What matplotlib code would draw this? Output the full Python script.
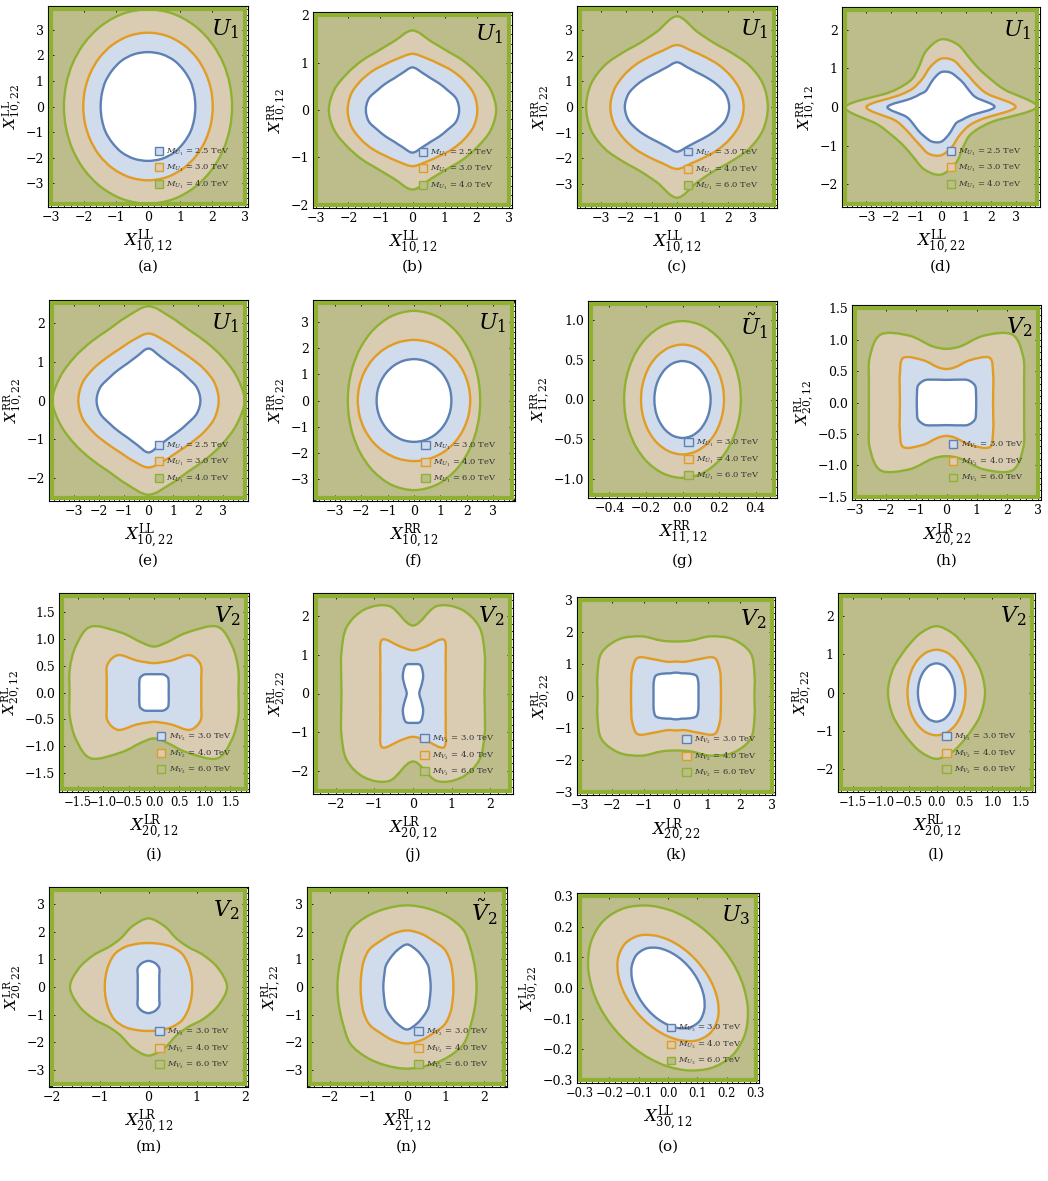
import numpy as np
import matplotlib
matplotlib.use("Agg")
import matplotlib.pyplot as plt
from matplotlib.path import Path
from matplotlib.patches import PathPatch, Rectangle, Patch
from matplotlib.ticker import MultipleLocator, AutoMinorLocator, FuncFormatter

plt.rcParams['font.family'] = 'DejaVu Serif'
plt.rcParams['mathtext.fontset'] = 'dejavuserif'

# ---- data --------------------------------------------------------------
# contour radii, as a fraction of the plotted half-range, every 15 deg from
# 0 to 165 deg (the other half follows from point symmetry)
angles = np.arange(0, 180, 15)


def quad(q):
    # curves symmetric about the y axis: 0..90 deg given, mirror to 165
    return list(q) + list(q[-2:0:-1])


panels = list('abcdefghijklmno')
models = [r'U_1'] * 6 + [r'\tilde{U}_1'] + [r'V_2'] * 6 + [r'\tilde{V}_2', r'U_3']
masses = [[2.5, 3.0, 4.0], [2.5, 3.0, 4.0], [3.0, 4.0, 6.0], [2.5, 3.0, 4.0],
          [2.5, 3.0, 4.0]] + [[3.0, 4.0, 6.0]] * 10

x_half = [3.0, 3.0, 3.8, 3.85, 3.85, 3.7, 0.5, 3.0, 1.8, 2.5, 3.0, 1.7, 2.0, 2.5, 0.3]
y_half = [3.8, 2.0, 3.8, 2.5, 2.5, 3.7, 1.2, 1.5, 1.8, 2.5, 3.0, 2.5, 3.5, 3.5, 0.3]
x_step = [1, 1, 1, 1, 1, 1, 0.2, 1, 0.5, 1, 1, 0.5, 1, 1, 0.1]
y_step = [1, 1, 1, 1, 1, 1, 0.5, 0.5, 0.5, 1, 1, 1, 1, 1, 0.1]

x_labels = [('LL', '10,12'), ('LL', '10,12'), ('LL', '10,12'), ('LL', '10,22'),
            ('LL', '10,22'), ('RR', '10,12'), ('RR', '11,12'), ('LR', '20,22'),
            ('LR', '20,12'), ('LR', '20,12'), ('LR', '20,22'), ('RL', '20,12'),
            ('LR', '20,12'), ('RL', '21,12'), ('LL', '30,12')]
y_labels = [('LL', '10,22'), ('RR', '10,12'), ('RR', '10,22'), ('RR', '10,12'),
            ('RR', '10,22'), ('RR', '10,22'), ('RR', '11,22'), ('RL', '20,12'),
            ('RL', '20,12'), ('RL', '20,22'), ('RL', '20,22'), ('RL', '20,22'),
            ('LR', '20,22'), ('RL', '21,22'), ('LL', '30,22')]

blue = [
    quad([0.49, 0.495, 0.51, 0.525, 0.545, 0.557, 0.56]),
    quad([0.485, 0.47, 0.42, 0.395, 0.385, 0.405, 0.45]),
    quad([0.54, 0.52, 0.47, 0.43, 0.41, 0.42, 0.458]),
    [0.56, 0.38, 0.34, 0.34, 0.35, 0.37, 0.36, 0.3, 0.25, 0.23, 0.26, 0.33],
    quad([0.54, 0.52, 0.47, 0.445, 0.44, 0.47, 0.535]),
    quad([0.383, 0.386, 0.393, 0.403, 0.414, 0.423, 0.426]),
    quad([0.308, 0.312, 0.326, 0.346, 0.372, 0.395, 0.404]),
    quad([0.325, 0.335, 0.36, 0.335, 0.28, 0.25, 0.24]),
    quad([0.16, 0.166, 0.185, 0.215, 0.215, 0.197, 0.19]),
    quad([0.065, 0.07, 0.085, 0.125, 0.21, 0.3, 0.302]),
    quad([0.235, 0.243, 0.27, 0.3, 0.27, 0.245, 0.245]),
    quad([0.195, 0.199, 0.211, 0.232, 0.26, 0.29, 0.303]),
    quad([0.112, 0.116, 0.13, 0.158, 0.224, 0.257, 0.27]),
    quad([0.245, 0.25, 0.27, 0.31, 0.345, 0.393, 0.44]),
    [0.381, 0.35, 0.333, 0.33, 0.34, 0.364, 0.402, 0.452, 0.497, 0.508, 0.476, 0.426],
]
orange = [
    quad([0.67, 0.675, 0.689, 0.711, 0.734, 0.753, 0.76]),
    quad([0.674, 0.66, 0.62, 0.585, 0.56, 0.565, 0.593]),
    quad([0.69, 0.675, 0.64, 0.61, 0.59, 0.595, 0.635]),
    [0.78, 0.51, 0.44, 0.43, 0.45, 0.5, 0.5, 0.43, 0.36, 0.34, 0.36, 0.46],
    quad([0.73, 0.71, 0.66, 0.62, 0.61, 0.64, 0.69]),
    quad([0.576, 0.579, 0.587, 0.599, 0.611, 0.62, 0.624]),
    quad([0.454, 0.46, 0.477, 0.505, 0.537, 0.565, 0.577]),
    quad([0.51, 0.53, 0.59, 0.67, 0.52, 0.39, 0.355]),
    quad([0.515, 0.533, 0.585, 0.55, 0.385, 0.326, 0.305]),
    quad([0.338, 0.35, 0.39, 0.478, 0.64, 0.5, 0.446]),
    quad([0.47, 0.485, 0.53, 0.565, 0.44, 0.37, 0.36]),
    quad([0.305, 0.31, 0.328, 0.356, 0.393, 0.429, 0.445]),
    quad([0.455, 0.46, 0.475, 0.49, 0.48, 0.462, 0.455]),
    quad([0.48, 0.49, 0.52, 0.55, 0.55, 0.57, 0.585]),
    [0.523, 0.476, 0.449, 0.441, 0.451, 0.479, 0.527, 0.592, 0.659, 0.687, 0.655, 0.588],
]
green = [
    quad([0.87, 0.877, 0.898, 0.928, 0.962, 0.99, 1.0]),
    quad([0.87, 0.84, 0.78, 0.74, 0.72, 0.75, 0.84]),
    quad([0.94, 0.92, 0.86, 0.79, 0.76, 0.8, 0.93]),
    [1.0, 0.69, 0.59, 0.56, 0.59, 0.67, 0.7, 0.6, 0.47, 0.42, 0.45, 0.57],
    quad([1.0, 0.95, 0.89, 0.85, 0.84, 0.89, 0.97]),
    quad([0.678, 0.689, 0.721, 0.773, 0.838, 0.898, 0.923]),
    quad([0.639, 0.648, 0.673, 0.714, 0.763, 0.806, 0.824]),
    quad([0.85, 0.88, 0.97, 1.02, 0.82, 0.62, 0.57]),
    quad([0.92, 0.95, 0.98, 0.97, 0.72, 0.54, 0.478]),
    quad([0.74, 0.77, 0.855, 0.97, 1.0, 0.93, 0.70]),
    quad([0.82, 0.85, 0.9, 0.84, 0.72, 0.6, 0.57]),
    quad([0.51, 0.51, 0.52, 0.535, 0.575, 0.64, 0.69]),
    quad([0.817, 0.75, 0.66, 0.585, 0.58, 0.65, 0.71]),
    quad([0.72, 0.73, 0.765, 0.83, 0.84, 0.84, 0.845]),
    [0.864, 0.803, 0.764, 0.75, 0.761, 0.796, 0.855, 0.93, 1.003, 1.037, 1.01, 0.941],
]

# ---- layout (frame boxes in pixels: left, top, right, bottom) -----------
W, H = 1048, 1181
boxes = [(48, 6, 248, 207), (313, 12, 512, 208), (577, 6, 777, 208), (842, 7, 1040, 207),
         (49, 300, 248, 501), (313, 300, 515, 501), (588, 301, 777, 498), (852, 305, 1041, 500),
         (59, 593, 249, 792), (313, 593, 513, 794), (577, 597, 775, 795), (838, 593, 1035, 792),
         (49, 887, 248, 1087), (307, 887, 507, 1087), (577, 893, 759, 1083)]
caption_y = [267, 561, 855, 1147]

c_blue, c_orange, c_green = '#5E81B5', '#E19C24', '#8FB032'
f_olive, f_tan, f_lblue = '#BDBD8C', '#D9CCB2', '#D0DBEB'


def smooth_path(x, y):
    p = np.column_stack([x, y])
    n = len(p)
    verts = [p[0]]
    codes = [Path.MOVETO]
    for i in range(n):
        p0, p1, p2, p3 = p[i - 1], p[i], p[(i + 1) % n], p[(i + 2) % n]
        verts += [p1 + (p2 - p0) / 6.0, p2 - (p3 - p1) / 6.0, p2]
        codes += [Path.CURVE4] * 3
    verts.append(p[0])
    codes.append(Path.CLOSEPOLY)
    return Path(verts, codes)


def tick_fmt(step):
    def f(v, pos):
        if abs(v) < 1e-9:
            v = 0.0
        s = '%d' % round(v) if step >= 1 else '%.1f' % v
        return s.replace('-', '\u2212')
    return FuncFormatter(f)


fig = plt.figure(figsize=(W / 100, H / 100), dpi=100)

for k in range(15):
    l, t, r, b = boxes[k]
    ax = fig.add_axes([l / W, 1 - b / H, (r - l) / W, (b - t) / H])
    xr, yr = x_half[k], y_half[k]
    ax.set_xlim(-1.035 * xr, 1.035 * xr)
    ax.set_ylim(-1.035 * yr, 1.035 * yr)

    th = np.deg2rad(np.concatenate([angles, angles + 180]))
    clip = Rectangle((-xr, -yr), 2 * xr, 2 * yr, transform=ax.transData)
    ax.add_patch(Rectangle((-xr, -yr), 2 * xr, 2 * yr, fc=f_olive, ec='none', zorder=1))

    paths = []
    for rho in (green[k], orange[k], blue[k]):
        rr = np.array(rho + rho)
        paths.append(smooth_path(rr * np.cos(th) * xr, rr * np.sin(th) * yr))

    for pth, fc in zip(paths, (f_tan, f_lblue, 'white')):
        pp = PathPatch(pth, fc=fc, ec='none', zorder=2)
        ax.add_patch(pp)
        pp.set_clip_path(clip)
    for pth, ec in zip(paths, (c_green, c_orange, c_blue)):
        pp = PathPatch(pth, fc='none', ec=ec, lw=1.7, zorder=3)
        ax.add_patch(pp)
        pp.set_clip_path(clip)
    ax.add_patch(Rectangle((-xr, -yr), 2 * xr, 2 * yr, fill=False, ec=c_green,
                           lw=3, zorder=4))

    crowded = x_step[k] < 1 and k != 6
    ax.xaxis.set_major_locator(MultipleLocator(x_step[k]))
    ax.yaxis.set_major_locator(MultipleLocator(y_step[k]))
    ax.xaxis.set_minor_locator(AutoMinorLocator(5))
    ax.yaxis.set_minor_locator(AutoMinorLocator(5))
    ax.xaxis.set_major_formatter(tick_fmt(x_step[k]))
    ax.yaxis.set_major_formatter(tick_fmt(y_step[k]))
    ax.tick_params(which='both', direction='in', top=True, right=True, width=0.6,
                   labelsize=9, pad=3)
    ax.tick_params(axis='x', labelsize=8.3 if crowded else 9)
    ax.tick_params(which='major', length=4)
    ax.tick_params(which='minor', length=2)
    for s in ax.spines.values():
        s.set_linewidth(0.8)

    sx, bx = x_labels[k]
    sy, by = y_labels[k]
    ax.set_xlabel(r'$X^{\rm %s}_{%s}$' % (sx, bx), fontsize=12, labelpad=3)
    ax.set_ylabel(r'$X^{\rm %s}_{%s}$' % (sy, by), fontsize=11, labelpad=0)

    ax.text(0.955, 0.945, r'$%s$' % models[k], transform=ax.transAxes,
            ha='right', va='top', fontsize=16, zorder=6)

    handles = [Patch(fc=f_lblue, ec=c_blue, lw=1.0),
               Patch(fc=f_tan, ec=c_orange, lw=1.0),
               Patch(fc=f_olive, ec=c_green, lw=1.0)]
    labels = [r'$M_{%s}$ = %.1f TeV' % (models[k], m) for m in masses[k]]
    leg = ax.legend(handles, labels, loc='lower right', bbox_to_anchor=(0.93, 0.06),
                    frameon=False, fontsize=6, handlelength=1.0, handleheight=1.0,
                    handletextpad=0.4, labelspacing=0.6, borderpad=0)
    for txt in leg.get_texts():
        txt.set_color('#333333')
    leg.set_zorder(7)

    fig.text((l + r) / 2 / W, 1 - caption_y[k // 4] / H, '(%s)' % panels[k],
             ha='center', va='center', fontsize=11)

fig.savefig('out.png', dpi=100)
